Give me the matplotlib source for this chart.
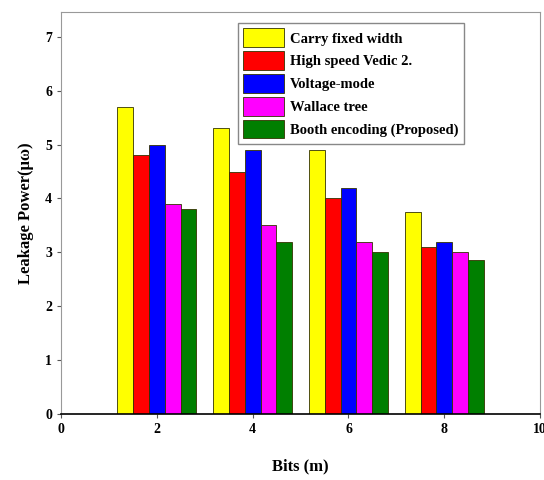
import numpy as np
import matplotlib.pyplot as plt

bits = [2, 4, 6, 8]
series_names = ['Carry fixed width', 'High speed Vedic 2.', 'Voltage-mode',
                'Wallace tree', 'Booth encoding (Proposed)']
carry = [5.7, 5.3, 4.9, 3.75]
vedic = [4.8, 4.5, 4.0, 3.1]
voltage = [5.0, 4.9, 4.2, 3.2]
wallace = [3.9, 3.5, 3.2, 3.0]
booth = [3.8, 3.2, 3.0, 2.85]
colors = ['#ffff00', '#ff0000', '#0000ff', '#ff00ff', '#007f00']

plt.rcParams['font.family'] = 'Liberation Serif'
plt.rcParams['font.weight'] = 'bold'

fig = plt.figure(figsize=(5.44, 4.8), dpi=100)
ax = fig.add_axes([0.112, 0.1375, 0.881, 0.8375])

width = 0.33
x = np.array(bits, dtype=float)
for i, (vals, name, c) in enumerate(zip([carry, vedic, voltage, wallace, booth], series_names, colors)):
    ax.bar(x + (i - 2) * width, vals, width, color=c, edgecolor='#333300',
           linewidth=0.6, label=name)

ax.set_xlim(0, 10)
ax.set_ylim(0, 7.46)
ax.set_xticks([0, 2, 4, 6, 8, 10])
ax.set_yticks(range(8))
ax.tick_params(labelsize=10, length=3, color='#555555')
for s in ['left', 'top', 'right']:
    ax.spines[s].set_color('#999999')
ax.spines['bottom'].set_color('black')
ax.spines['bottom'].set_linewidth(1.2)

ax.set_xlabel('Bits (m)', fontsize=12, fontweight='bold', labelpad=16)
ax.set_ylabel('Leakage Power(\u03bc\u03c9)', fontsize=12, fontweight='bold', labelpad=8)

leg = ax.legend(loc='upper left', bbox_to_anchor=(0.355, 0.99), fontsize=10.5,
                handlelength=2.8, handleheight=1.6, labelspacing=0.28,
                borderpad=0.35, handletextpad=0.4, fancybox=False, framealpha=1)
leg.get_frame().set_edgecolor('#888888')

plt.savefig('out.png', dpi=100)
plt.close()
